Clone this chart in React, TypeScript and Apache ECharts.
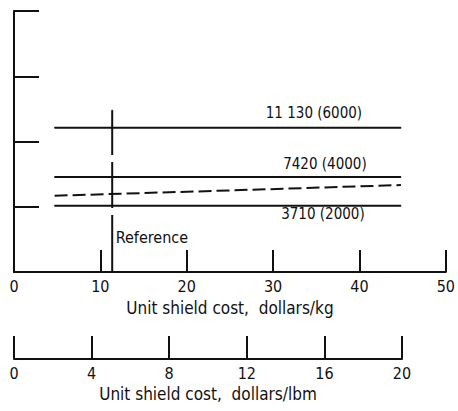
import React, { useEffect, useRef } from "react";
import * as echarts from "echarts";

const kgTicks = [0, 10, 20, 30, 40, 50];
const lbmTicks = [0, 4, 8, 12, 16, 20];
const xStart = 4.7;
const xEnd = 44.8;
const line6000 = 2.21;
const line4000 = 1.456;
const line2000 = 1.016;
const dashedX = [4.7, 23, 44.8];
const dashedY = [1.169, 1.242, 1.333];
const referenceX = 11.37;
const referenceTop = 2.48;
const labels = ["11 130 (6000)", "7420 (4000)", "3710 (2000)", "Reference"];

const FONT = "'DejaVu Sans Condensed', sans-serif";

export default function App() {
  const ref = useRef<HTMLDivElement>(null);
  useEffect(() => {
    if (!ref.current) return;
    const chart = echarts.init(ref.current, null, { renderer: "svg" });
    const black = "#111";
    const lbl = (text: string, pos: string, offset: number[], size: number) => ({
      show: true,
      position: pos,
      offset,
      formatter: text,
      color: black,
      fontFamily: FONT,
      fontSize: size,
    });
    const hLine = (y: number, text: string, pos: string, offset: number[]) => ({
      type: "line",
      xAxisIndex: 0,
      yAxisIndex: 0,
      symbol: "circle",
      symbolSize: 1,
      showAllSymbol: true,
      itemStyle: { color: black },
      lineStyle: { color: black, width: 2 },
      data: [[xStart, y], { value: [xEnd, y], label: lbl(text, pos, offset, 15) }],
    });
    chart.setOption({
      animation: false,
      textStyle: { fontFamily: FONT, color: black },
      grid: [
        { left: 14, right: 10, top: 11, bottom: 139 },
        { left: 14, width: 388, top: 330, bottom: 52 },
      ],
      xAxis: [
        {
          gridIndex: 0,
          type: "value",
          min: kgTicks[0],
          max: kgTicks[kgTicks.length - 1],
          interval: 10,
          axisLine: { lineStyle: { color: black, width: 2 } },
          axisTick: { inside: true, length: 22, lineStyle: { color: black, width: 2 } },
          axisLabel: { margin: 6, color: black, fontSize: 16, fontFamily: FONT },
          splitLine: { show: false },
          name: "Unit shield cost,  dollars/kg",
          nameLocation: "middle",
          nameGap: 27,
          nameMoveOverlap: false,
          nameTextStyle: { color: black, fontSize: 17, fontFamily: FONT },
        },
        {
          gridIndex: 1,
          type: "value",
          min: lbmTicks[0],
          max: lbmTicks[lbmTicks.length - 1],
          interval: 4,
          axisLine: { lineStyle: { color: black, width: 2 } },
          axisTick: { inside: true, length: 23, lineStyle: { color: black, width: 2 } },
          axisLabel: { margin: 6, color: black, fontSize: 16, fontFamily: FONT },
          splitLine: { show: false },
          name: "Unit shield cost,  dollars/lbm",
          nameLocation: "middle",
          nameGap: 26,
          nameMoveOverlap: false,
          nameTextStyle: { color: black, fontSize: 17, fontFamily: FONT },
        },
      ],
      yAxis: [
        {
          gridIndex: 0,
          type: "value",
          min: 0,
          max: 4,
          interval: 1,
          axisLine: { show: true, lineStyle: { color: black, width: 2 } },
          axisTick: { show: true, inside: true, length: 25, lineStyle: { color: black, width: 2 } },
          axisLabel: { show: false },
          splitLine: { show: false },
        },
        {
          gridIndex: 1,
          type: "value",
          min: 0,
          max: 1,
          show: false,
        },
      ],
      series: [
        hLine(line6000, labels[0], "top", [-87, -2]),
        hLine(line4000, labels[1], "top", [-76, 0]),
        hLine(line2000, labels[2], "bottom", [-78, -5]),
        {
          type: "line",
          xAxisIndex: 0,
          yAxisIndex: 0,
          symbol: "none",
          lineStyle: { color: black, width: 2, type: [13, 5] },
          data: dashedX.map((x, i) => [x, dashedY[i]]),
        },
        {
          type: "line",
          xAxisIndex: 0,
          yAxisIndex: 0,
          symbol: "circle",
          symbolSize: 1,
          showAllSymbol: true,
          itemStyle: { color: black },
          lineStyle: { color: black, width: 2, type: [57, 7, 46, 7, 46, 0] },
          data: [
            { value: [referenceX, 0], label: lbl(labels[3], "right", [-2, -35], 16) },
            [referenceX, referenceTop],
          ],
        },
        {
          type: "line",
          xAxisIndex: 1,
          yAxisIndex: 1,
          symbol: "none",
          data: [],
        },
      ],
    });
    return () => chart.dispose();
  }, []);
  return <div ref={ref} style={{ width: 458, height: 411, position: "absolute", left: 0, top: 0 }} />;
}
